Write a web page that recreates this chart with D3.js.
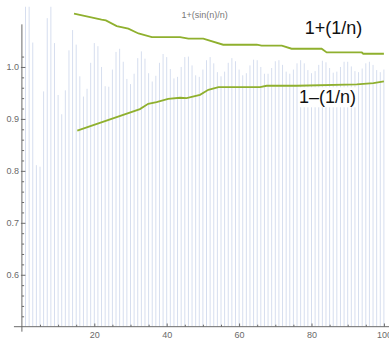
<!DOCTYPE html>
<html><head><meta charset="utf-8">
<script src="https://cdn.jsdelivr.net/npm/d3@7"></script>
<style>body{margin:0;background:#fff}svg{display:block}text{font-family:"Liberation Sans",Arial,sans-serif}</style>
</head><body><svg id="c" width="389" height="340"></svg>
<script>
const title = "1+(sin(n)/n)";
// bar heights for n = 1..100
const values = [
1.841,1.455,1.047,0.811,0.808,0.953,1.094,1.124,1.046,0.946,
0.909,0.955,1.032,1.071,1.043,0.982,0.943,0.958,1.008,1.046,
1.040,1.000,0.963,0.962,0.995,1.029,1.035,1.010,0.977,0.967,
0.987,1.017,1.030,1.016,0.988,0.972,0.983,1.008,1.025,1.019,
0.996,0.978,0.981,1.000,1.019,1.020,1.003,0.984,0.981,0.995,
1.013,1.019,1.007,0.990,0.982,0.991,1.008,1.017,1.011,0.995,
0.984,0.988,1.003,1.014,1.013,1.000,0.987,0.987,0.998,1.011,
1.013,1.004,0.991,0.987,0.995,1.007,1.013,1.007,0.994,0.988,
0.992,1.004,1.012,1.009,0.998,0.989,0.991,1.000,1.010,1.010,
1.001,0.992,0.990,0.997,1.007,1.010,1.004,0.994,0.990,0.995];
const upperN = [14.4,22.0,23.2,26.2,29.4,32.2,35.9,43.7,46.0,50.1,55.6,64.9,66.2,71.8,74.5,82.8,84.2,93.9,94.3,100];
const upperV = [1.1025,1.0909,1.0896,1.0788,1.0736,1.0645,1.0576,1.0576,1.0544,1.0544,1.0428,1.0428,1.0409,1.0409,1.0351,1.0351,1.0279,1.0279,1.0254,1.0254];
const lowerN = [15.3,32.6,34.9,37.2,40.4,43.7,45.5,49.2,51.5,54.3,65.8,67.6,75.9,92.5,97.1,100];
const lowerV = [0.8776,0.9189,0.9291,0.9324,0.9387,0.9407,0.9400,0.9464,0.9561,0.9613,0.9613,0.9638,0.9638,0.9663,0.9690,0.9721];
const upperLabel = "1+(1/n)";
const lowerLabel = "1\u2013(1/n)";
const xTicks = [20,40,60,80,100];
const yTicks = [0.6,0.7,0.8,0.9,1.0];

const svg = d3.select("#c");
const x = d3.scaleLinear().domain([0,100]).range([21.9,383.9]);
const y = d3.scaleLinear().domain([0.5,1.116]).range([326.7,6.7]);
const axisCol = "#6a6a6a";

svg.append("defs").append("clipPath").attr("id","clip")
  .append("rect").attr("x",0).attr("y",y(1.116)).attr("width",389).attr("height",y(0.5)-y(1.116));

// bars
svg.append("g").attr("clip-path","url(#clip)")
  .selectAll("line").data(values).join("line")
  .attr("x1",(d,i)=>x(i+1)).attr("x2",(d,i)=>x(i+1))
  .attr("y1",y(0.5)).attr("y2",d=>y(d))
  .attr("stroke","#d6deef").attr("stroke-width",1);

// axes
const gx = svg.append("g").attr("transform",`translate(0,${y(0.5)})`);
gx.call(d3.axisBottom(x).tickValues(x.ticks(20).filter(t=>t>0 && t%20!==0)).tickSizeInner(-2).tickSizeOuter(0).tickFormat(""));
gx.call(g=>g.select(".domain").remove());
const gx2 = svg.append("g").attr("transform",`translate(0,${y(0.5)})`);
gx2.call(d3.axisBottom(x).tickValues(xTicks).tickSizeInner(-3.2).tickSizeOuter(0).tickPadding(5.4));
gx2.select(".domain").remove();

const gy = svg.append("g").attr("transform",`translate(${x(0)},0)`);
gy.call(d3.axisLeft(y).tickValues(d3.range(26).map(i=>0.52+i*0.02).filter(t=>Math.abs(t*10-Math.round(t*10))>0.01)).tickSizeInner(-2.2).tickSizeOuter(0).tickFormat(""));
gy.select(".domain").remove();
const gy2 = svg.append("g").attr("transform",`translate(${x(0)},0)`);
gy2.call(d3.axisLeft(y).tickValues(yTicks).tickSizeInner(-3.5).tickSizeOuter(0).tickPadding(3).tickFormat(d3.format(".1f")));
gy2.select(".domain").remove();

[gx,gx2,gy,gy2].forEach(g=>{
  g.selectAll("line").attr("stroke",axisCol);
  g.selectAll("text").attr("fill",axisCol).style("font-size","9px").style("font-family","'Liberation Sans',Arial,sans-serif");
});
gy2.selectAll(".tick line").attr("x1",-1);

svg.append("line").attr("x1",x(-2.2)).attr("x2",389).attr("y1",y(0.5)).attr("y2",y(0.5)).attr("stroke",axisCol);
svg.append("line").attr("x1",x(0)).attr("x2",x(0)).attr("y1",y(0.4904)).attr("y2",y(1.082)).attr("stroke",axisCol);

// title
svg.append("text").attr("x",x(50.5)).attr("y",18).attr("text-anchor","middle")
  .attr("fill","#777").style("font-size","9px").text(title);

// lines
const line = d3.line().x(d=>x(d[0])).y(d=>y(d[1]));
svg.append("path").datum(upperN.map((n,i)=>[n,upperV[i]])).attr("d",line)
  .attr("fill","none").attr("stroke","#8fb02e").attr("stroke-width",1.8);
svg.append("path").datum(lowerN.map((n,i)=>[n,lowerV[i]])).attr("d",line)
  .attr("fill","none").attr("stroke","#8fb02e").attr("stroke-width",1.8);

// labels with white background
function label(txt, cx, base){
  const t = svg.append("text").attr("x",cx).attr("y",base).attr("text-anchor","middle")
    .attr("fill","#111").style("font-size","18px").text(txt);
  const b = t.node().getBBox();
  svg.insert("rect", () => t.node()).attr("x",b.x-1).attr("y",b.y).attr("width",b.width+2).attr("height",b.height).attr("fill","#fff");
}
label(upperLabel, 333.5, 34);
label(lowerLabel, 327.5, 103.3);
</script></body></html>
